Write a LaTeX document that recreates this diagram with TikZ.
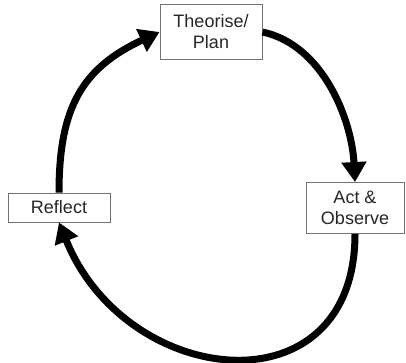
\documentclass[tikz,border=0pt]{standalone}
\usepackage{fontspec}
\setmainfont{Liberation Sans}
\usetikzlibrary{arrows.meta,positioning}

\tikzset{
  stagebox/.style={draw=black!55,line width=0.9pt,fill=white,align=center,
    font=\fontsize{18}{21}\selectfont,text=black!85,inner sep=0pt},
  cyclearrow/.style={line width=7pt,-{Triangle[length=20pt,width=24pt]}},
}

\begin{document}
\begin{tikzpicture}[x=1pt,y=-1pt]
  \useasboundingbox (0,0) rectangle (406,362);
  % stages of the cycle
  \node[stagebox,minimum width=102pt,minimum height=55pt] (theorise) at (211,32) {Theorise/\\Plan};
  \node[stagebox,minimum width=98pt,minimum height=51pt] (act) at (355,208) {Act \&\\Observe};
  \node[stagebox,minimum width=102pt,minimum height=29pt] (reflect) at (59,207.5) {Reflect};
  % arrows round the cycle
  \draw[cyclearrow] (reflect.north) to[out=90,in=205,looseness=1.15] (theorise.west);
  \draw[cyclearrow] (theorise.east) to[out=-12,in=93,looseness=0.9] (act.north);
  \draw[cyclearrow] (act.south) to[out=-90,in=-68,looseness=1.55] (reflect.south);
\end{tikzpicture}
\end{document}
